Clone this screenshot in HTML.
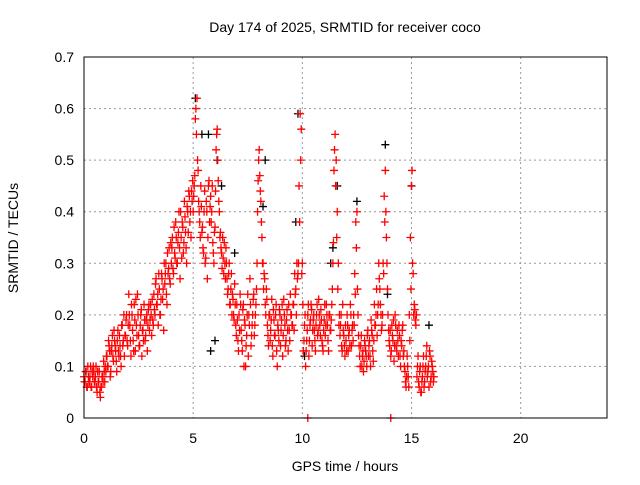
<!DOCTYPE html>
<html><head><meta charset="utf-8"><style>
body{margin:0;background:#fff}
svg text{font-family:"Liberation Sans",sans-serif;font-size:14px;fill:#000}
</style></head><body>
<svg id="chart" width="640" height="480" xmlns="http://www.w3.org/2000/svg">
<text x="345" y="32" text-anchor="middle">Day 174 of 2025, SRMTID for receiver coco</text>
<text x="345" y="471" text-anchor="middle">GPS time / hours</text>
<text transform="translate(18,238) rotate(-90)" text-anchor="middle">SRMTID / TECUs</text>
<g id="grid"></g><g id="marks"></g><g id="axes"></g>
</svg>
<script>
const xTicks=[0,5,10,15,20];
const yTicks=[0,0.1,0.2,0.3,0.4,0.5,0.6,0.7];
const yTickLabels=["0","0.1","0.2","0.3","0.4","0.5","0.6","0.7"];
const sampleStepHours=0.05;
const blackHours=[5.1,5.4,5.7,6.1,6.3,6.9,8.2,8.3,9.8,10.1,11.4,11.6,12.5,13.8,13.9,15.0,15.8,5.8,6.0,9.7,11.3];
const blackValues=[0.62,0.55,0.55,0.5,0.45,0.32,0.41,0.5,0.59,0.12,0.33,0.45,0.42,0.53,0.24,0.45,0.18,0.13,0.15,0.38,0.3];
const redSeriesA=[
.08,.07,.09,.06,.08,.07,.1,.06,.08,.09,.07,.1,.05,.07,.09,.04,.06,.08,.11,.07,
.09,.12,.1,.14,.08,.13,.16,.11,.15,.13,.09,.17,.12,.14,.1,.18,.15,.12,.16,.2,
.14,.24,.18,.12,.2,.15,.22,.13,.18,.24,.16,.14,.2,.12,.17,.22,.15,.19,.13,.21,
.17,.22,.16,.19,.24,.2,.27,.22,.18,.25,.2,.28,.23,.17,.26,.3,.22,.28,.33,.26,
.3,.35,.28,.32,.38,.3,.34,.4,.27,.35,.38,.32,.42,.36,.3,.4,.44,.38,.35,.42,
.4,.45,.58,.55,.5,.42,.38,.45,.36,.33,.4,.3,.42,.27,.45,.38,.43,.4,.34,.3,
.37,.52,.56,.46,.4,.36,.32,.35,.28,.3,.33,.27,.25,.3,.22,.28,.24,.2,.26,.18,
.22,.15,.2,.24,.17,.13,.22,.19,.1,.16,.24,.2,.27,.14,.18,.23,.16,.2,.25,.4,
.5,.47,.42,.35,.3,.28,.22,.25,.18,.14,.2,.17,.23,.12,.19,.16,.22,.1,.17,.21,
.14,.19,.12,.23,.18,.15,.21,.13,.17,.24,.2,.18,.22,.28,.25,.3,.28,.45,.59,.56,
.3,.13,.18,.1,.15,.2,.12,.18,.22,.14,.19,.17,.13,.2,.16,.23,.18,.21,.15,.13,
.19,.16,.22,.18,.13,.2,.17,.22,.3,.48,.55,.5,.4,.3,.2,.18,.14,.22,.16,.12,
.15,.2,.13,.17,.22,.14,.18,.2,.28,.38,.4,.2,.14,.1,.16,.12,.09,.15,.13,.1,
.17,.14,.12,.19,.16,.11,.22,.18,.25,.2,.3,.25,.2,.18,.3,.43,.48,.35,.25,.17,
.14,.12,.18,.15,.11,.2,.14,.17,.12,.16,.1,.14,.18,.13,.09,.06,.12,.08,.2,.35,
.45,.3,.2,.21,.18,.08,.12,.06,.1,.05,.08,.12,.07,.1,.14,.09,.06,.12,.08,.1,
.07];
const redSeriesB=[
.07,.09,.06,.1,.07,.08,.06,.09,.1,.07,.08,.06,.09,.07,.05,.06,.08,.07,.09,.1,
.12,.1,.15,.13,.09,.14,.12,.17,.14,.11,.15,.13,.16,.12,.18,.14,.2,.16,.19,.15,
.18,.2,.15,.22,.17,.13,.19,.23,.16,.2,.14,.18,.21,.17,.15,.19,.16,.2,.18,.22,
.19,.2,.23,.18,.21,.26,.22,.24,.28,.2,.23,.27,.25,.3,.28,.24,.32,.29,.27,.34,
.33,.29,.37,.31,.35,.3,.36,.33,.4,.31,.37,.34,.39,.33,.41,.36,.43,.4,.44,.46,
.43,.47,.6,.62,.48,.4,.35,.41,.37,.32,.44,.31,.4,.35,.46,.41,.38,.45,.32,.36,
.44,.55,.5,.42,.35,.33,.29,.31,.34,.27,.3,.24,.28,.22,.25,.2,.23,.19,.22,.16,
.19,.13,.17,.22,.15,.21,.1,.18,.14,.2,.12,.18,.22,.16,.2,.24,.18,.22,.3,.46,
.52,.44,.38,.3,.25,.27,.2,.23,.16,.2,.15,.19,.14,.21,.16,.2,.13,.18,.15,.2,
.17,.22,.16,.2,.14,.19,.17,.22,.15,.2,.18,.22,.17,.24,.2,.27,.3,.38,.5,.28,
.22,.15,.2,.13,.17,.22,.15,.19,.21,.17,.2,.15,.18,.22,.17,.2,.16,.19,.14,.17,
.22,.18,.2,.15,.2,.17,.19,.25,.34,.52,.45,.35,.25,.18,.16,.2,.13,.17,.14,.18,
.13,.18,.16,.14,.2,.17,.15,.18,.24,.33,.25,.16,.12,.14,.1,.13,.11,.14,.12,.16,
.12,.15,.1,.17,.13,.15,.18,.2,.16,.22,.27,.22,.17,.2,.28,.38,.4,.3,.2,.15,
.17,.13,.16,.19,.14,.18,.13,.15,.18,.12,.15,.17,.12,.1,.07,.08,.1,.06,.15,.25,
.48,.28,.22,.19,.2,.1,.07,.09,.05,.07,.1,.06,.09,.12,.08,.1,.13,.07,.11,.09,
.08];
const zeroHours=[10.25,14.05];
const zeroValues=[0,0];
const X=h=>84+h*(524/24), Y=v=>418-v*(361/0.7);
const NS="http://www.w3.org/2000/svg";
const mk=(t,a)=>{const e=document.createElementNS(NS,t);for(const k in a)e.setAttribute(k,a[k]);return e;};
const grid=document.getElementById('grid'),axes=document.getElementById('axes'),marks=document.getElementById('marks');
xTicks.forEach(t=>{
  if(t>0){const l=mk('line',{x1:X(t),x2:X(t),y1:57,y2:418,stroke:'#999','stroke-dasharray':'2,3'});
  
  grid.appendChild(l);}
  const tx=mk('text',{x:X(t),y:443,'text-anchor':'middle'});tx.textContent=t;
  
  axes.appendChild(tx);
});
yTicks.forEach((t,i)=>{
  if(t>0&&t<0.7){const l=mk('line',{x1:84,x2:607,y1:Y(t),y2:Y(t),stroke:'#999','stroke-dasharray':'2,3'});
  
  grid.appendChild(l);}
  const tx=mk('text',{x:74,y:Y(t)+5,'text-anchor':'end'});tx.textContent=yTickLabels[i];
  
  axes.appendChild(tx);
});
const fr=mk('rect',{x:84,y:57,width:523,height:361,fill:'none',stroke:'#000'});

axes.appendChild(fr);
function plus(h,v,c,name){
  const p=mk('path',{d:`M${X(h)-4},${Y(v)}h8M${X(h)},${Y(v)-4}v8`,stroke:c,'stroke-width':1.3});
  
  
  marks.appendChild(p);
}
blackHours.forEach((h,i)=>plus(h,blackValues[i],'#000','black-point'));
redSeriesA.forEach((v,i)=>plus(i*sampleStepHours,v,'#f00','red-point'));
redSeriesB.forEach((v,i)=>plus(i*sampleStepHours+0.025,v,'#f00','red-point'));
zeroHours.forEach((h,i)=>plus(h,zeroValues[i],'#f00','red-point'));
</script>
</body></html>
